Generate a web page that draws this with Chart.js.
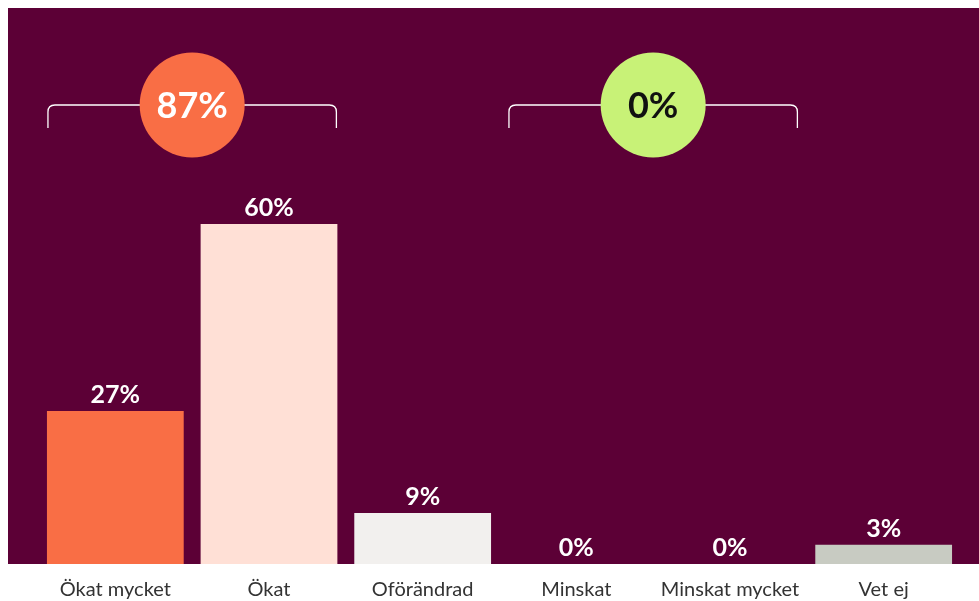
<!DOCTYPE html>
<html>
<head>
<meta charset="utf-8">
<script src="https://cdn.jsdelivr.net/npm/chart.js@4/dist/chart.umd.min.js"></script>
<style>
html,body{margin:0;padding:0;background:#fff;overflow:hidden;}
#wrap{width:979px;height:601px;position:relative;}
</style>
</head>
<body>
<div id="wrap"><canvas id="c"></canvas></div>
<script>
const categories = ['Ökat mycket', 'Ökat', 'Oförändrad', 'Minskat', 'Minskat mycket', 'Vet ej'];
const values = [27, 60, 9, 0, 0, 3.4];
const valueLabels = ['27%', '60%', '9%', '0%', '0%', '3%'];
const barColors = ['#F96E45', '#FFE0D6', '#F2F0EE', '#7A1843', '#5C0036', '#C8CBC2'];
const groupRanges = [[0, 1], [3, 4]];
const groupLabels = ['87%', '0%'];
const groupColors = ['#F96E45', '#C8F277'];
const groupTextColors = ['#FFFFFF', '#111111'];

const BG = '#5C0036';
const FONT = 'Lato, "Open Sans", sans-serif';

const bgPlugin = {
  id: 'bg',
  beforeDraw(chart) {
    const ctx = chart.ctx;
    const y0 = chart.scales.y.getPixelForValue(0);
    ctx.save();
    ctx.fillStyle = BG;
    ctx.fillRect(8, 8, chart.width - 8, y0 - 8);
    ctx.restore();
  }
};

const labelPlugin = {
  id: 'vals',
  afterDatasetsDraw(chart) {
    const ctx = chart.ctx;
    const meta = chart.getDatasetMeta(0);
    ctx.save();
    ctx.fillStyle = '#FFFFFF';
    ctx.font = 'bold 25px ' + FONT;
    ctx.textAlign = 'center';
    ctx.textBaseline = 'alphabetic';
    meta.data.forEach((bar, i) => {
      ctx.fillText(valueLabels[i], bar.x, bar.y - 8);
    });
    ctx.restore();
  }
};

const bracketPlugin = {
  id: 'brackets',
  afterDatasetsDraw(chart) {
    const ctx = chart.ctx;
    const meta = chart.getDatasetMeta(0);
    const yLine = 105, yEnd = 128, r = 7, radius = 52.5;
    groupRanges.forEach((rg, gi) => {
      const a = meta.data[rg[0]], b = meta.data[rg[1]];
      const x1 = a.x - a.width / 2 + 1;
      const x2 = b.x + b.width / 2 - 1;
      const cx = (x1 + x2) / 2;
      ctx.save();
      ctx.strokeStyle = '#FFFFFF';
      ctx.lineWidth = 1.3;
      ctx.beginPath();
      ctx.moveTo(x1, yEnd);
      ctx.lineTo(x1, yLine + r);
      ctx.quadraticCurveTo(x1, yLine, x1 + r, yLine);
      ctx.lineTo(x2 - r, yLine);
      ctx.quadraticCurveTo(x2, yLine, x2, yLine + r);
      ctx.lineTo(x2, yEnd);
      ctx.stroke();
      ctx.fillStyle = groupColors[gi];
      ctx.beginPath();
      ctx.arc(cx, yLine, radius, 0, Math.PI * 2);
      ctx.fill();
      ctx.fillStyle = groupTextColors[gi];
      ctx.font = 'bold 36px ' + FONT;
      ctx.textAlign = 'center';
      ctx.textBaseline = 'alphabetic';
      ctx.fillText(groupLabels[gi], cx, yLine + 13);
      ctx.restore();
    });
  }
};

new Chart(document.getElementById('c'), {
  type: 'bar',
  data: {
    labels: categories,
    datasets: [{
      data: values,
      backgroundColor: barColors,
      borderWidth: 0,
      barPercentage: 0.89,
      categoryPercentage: 1
    }]
  },
  options: {
    responsive: true,
    maintainAspectRatio: false,
    animation: false,
    layout: { padding: { left: 38.5, right: 18.5, top: 54, bottom: -15 } },
    plugins: { legend: { display: false }, tooltip: { enabled: false } },
    scales: {
      x: {
        grid: { display: false, drawTicks: false, tickLength: 0 },
        border: { display: false },
        ticks: { color: '#333333', font: { family: FONT, size: 20 }, padding: 14, maxRotation: 0 }
      },
      y: {
        display: false,
        min: 0,
        max: 90
      }
    }
  },
  plugins: [bgPlugin, labelPlugin, bracketPlugin]
});
</script>
</body>
</html>
